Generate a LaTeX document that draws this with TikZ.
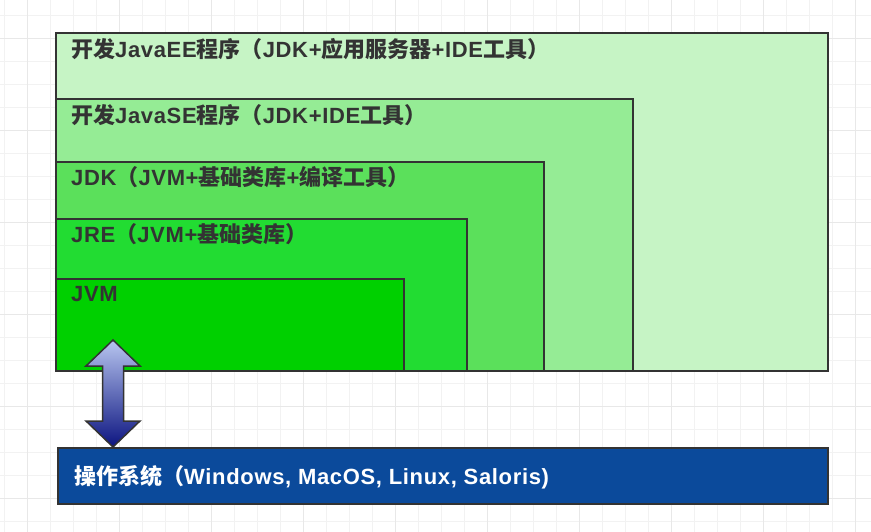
\documentclass[tikz,border=0pt]{standalone}
\usepackage{fontspec}
\newfontfamily\cjk{Noto Sans CJK SC}
\newfontfamily\lat{Liberation Sans}[LetterSpace=3]
\newcommand{\zh}[1]{{\cjk #1}}
\usetikzlibrary{calc,positioning}
\definecolor{eefill}{HTML}{C6F4C5}
\definecolor{sefill}{HTML}{95EC95}
\definecolor{jdkfill}{HTML}{5BE05B}
\definecolor{jrefill}{HTML}{22DC32}
\definecolor{jvmfill}{HTML}{00D000}
\definecolor{osfill}{HTML}{0B4A9B}
\definecolor{edge}{HTML}{333333}
\definecolor{arrowtop}{HTML}{B8C6F0}
\definecolor{arrowbot}{HTML}{0C1480}
\tikzset{
    box/.style={draw=edge, line width=2pt, anchor=south west, inner sep=0pt},
    lbl/.style={anchor=west, inner sep=0pt, text=edge, font=\lat\bfseries\fontsize{22}{26}\selectfont},
    minorgrid/.style={draw=black!5, line width=0.8pt},
    majorgrid/.style={draw=black!9, line width=0.8pt}
}

\begin{document}
\begin{tikzpicture}[x=1pt,y=-1pt]
\useasboundingbox[fill=white] (0,0) rectangle (871,532);
\foreach \gx in {4,27,...,871} \draw[minorgrid] (\gx,0) -- (\gx,532);
\foreach \gy in {15,38,...,532} \draw[minorgrid] (0,\gy) -- (871,\gy);
\foreach \gx in {27,119,...,871} \draw[majorgrid] (\gx,0) -- (\gx,532);
\foreach \gy in {38,130,...,532} \draw[majorgrid] (0,\gy) -- (871,\gy);

\node[box, fill=eefill, minimum width=772pt, minimum height=338pt] (ee) at (55,372) {};
\node[box, fill=sefill, minimum width=577pt, minimum height=272pt] (se) at (55,372) {};
\node[box, fill=jdkfill, minimum width=488pt, minimum height=209pt] (jdk) at (55,372) {};
\node[box, fill=jrefill, minimum width=411pt, minimum height=152pt] (jre) at (55,372) {};
\node[box, fill=jvmfill, minimum width=348pt, minimum height=92pt] (jvm) at (55,372) {};

\node[lbl] (eetxt) at ($(ee.north west)+(16,17)$) {\zh{开发}JavaEE\zh{程序（}JDK+\zh{应用服务器}+IDE\zh{工具）}};
\node[lbl] (setxt) at ($(se.north west)+(16,17)$) {\zh{开发}JavaSE\zh{程序（}JDK+IDE\zh{工具）}};
\node[lbl] (jdktxt) at ($(jdk.north west)+(16,16)$) {JDK\zh{（}JVM+\zh{基础类库}+\zh{编译工具）}};
\node[lbl] (jretxt) at ($(jre.north west)+(16,16)$) {JRE\zh{（}JVM+\zh{基础类库）}};
\node[lbl] (jvmtxt) at ($(jvm.north west)+(16,16)$) {JVM};

\node[box, fill=osfill, minimum width=770pt, minimum height=56pt, anchor=north west] (os) at (57,447) {};
\node[lbl, text=white] (ostxt) at ($(os.west)+(17,1)$) {\zh{操作系统（}Windows, MacOS, Linux, Saloris)};

\draw[draw=edge, line width=1.5pt, line join=miter, top color=arrowtop, bottom color=arrowbot]
  ($(jvm.south west)+(58,-32)$) -- ++(27,26) -- ++(-16.5,0) -- ++(0,55) -- ++(16.5,0)
  -- ($(os.north west)+(56,0)$) -- ++(-27,-26) -- ++(16.5,0) -- ++(0,-55) -- ++(-16.5,0) -- cycle;
\end{tikzpicture}
\end{document}
